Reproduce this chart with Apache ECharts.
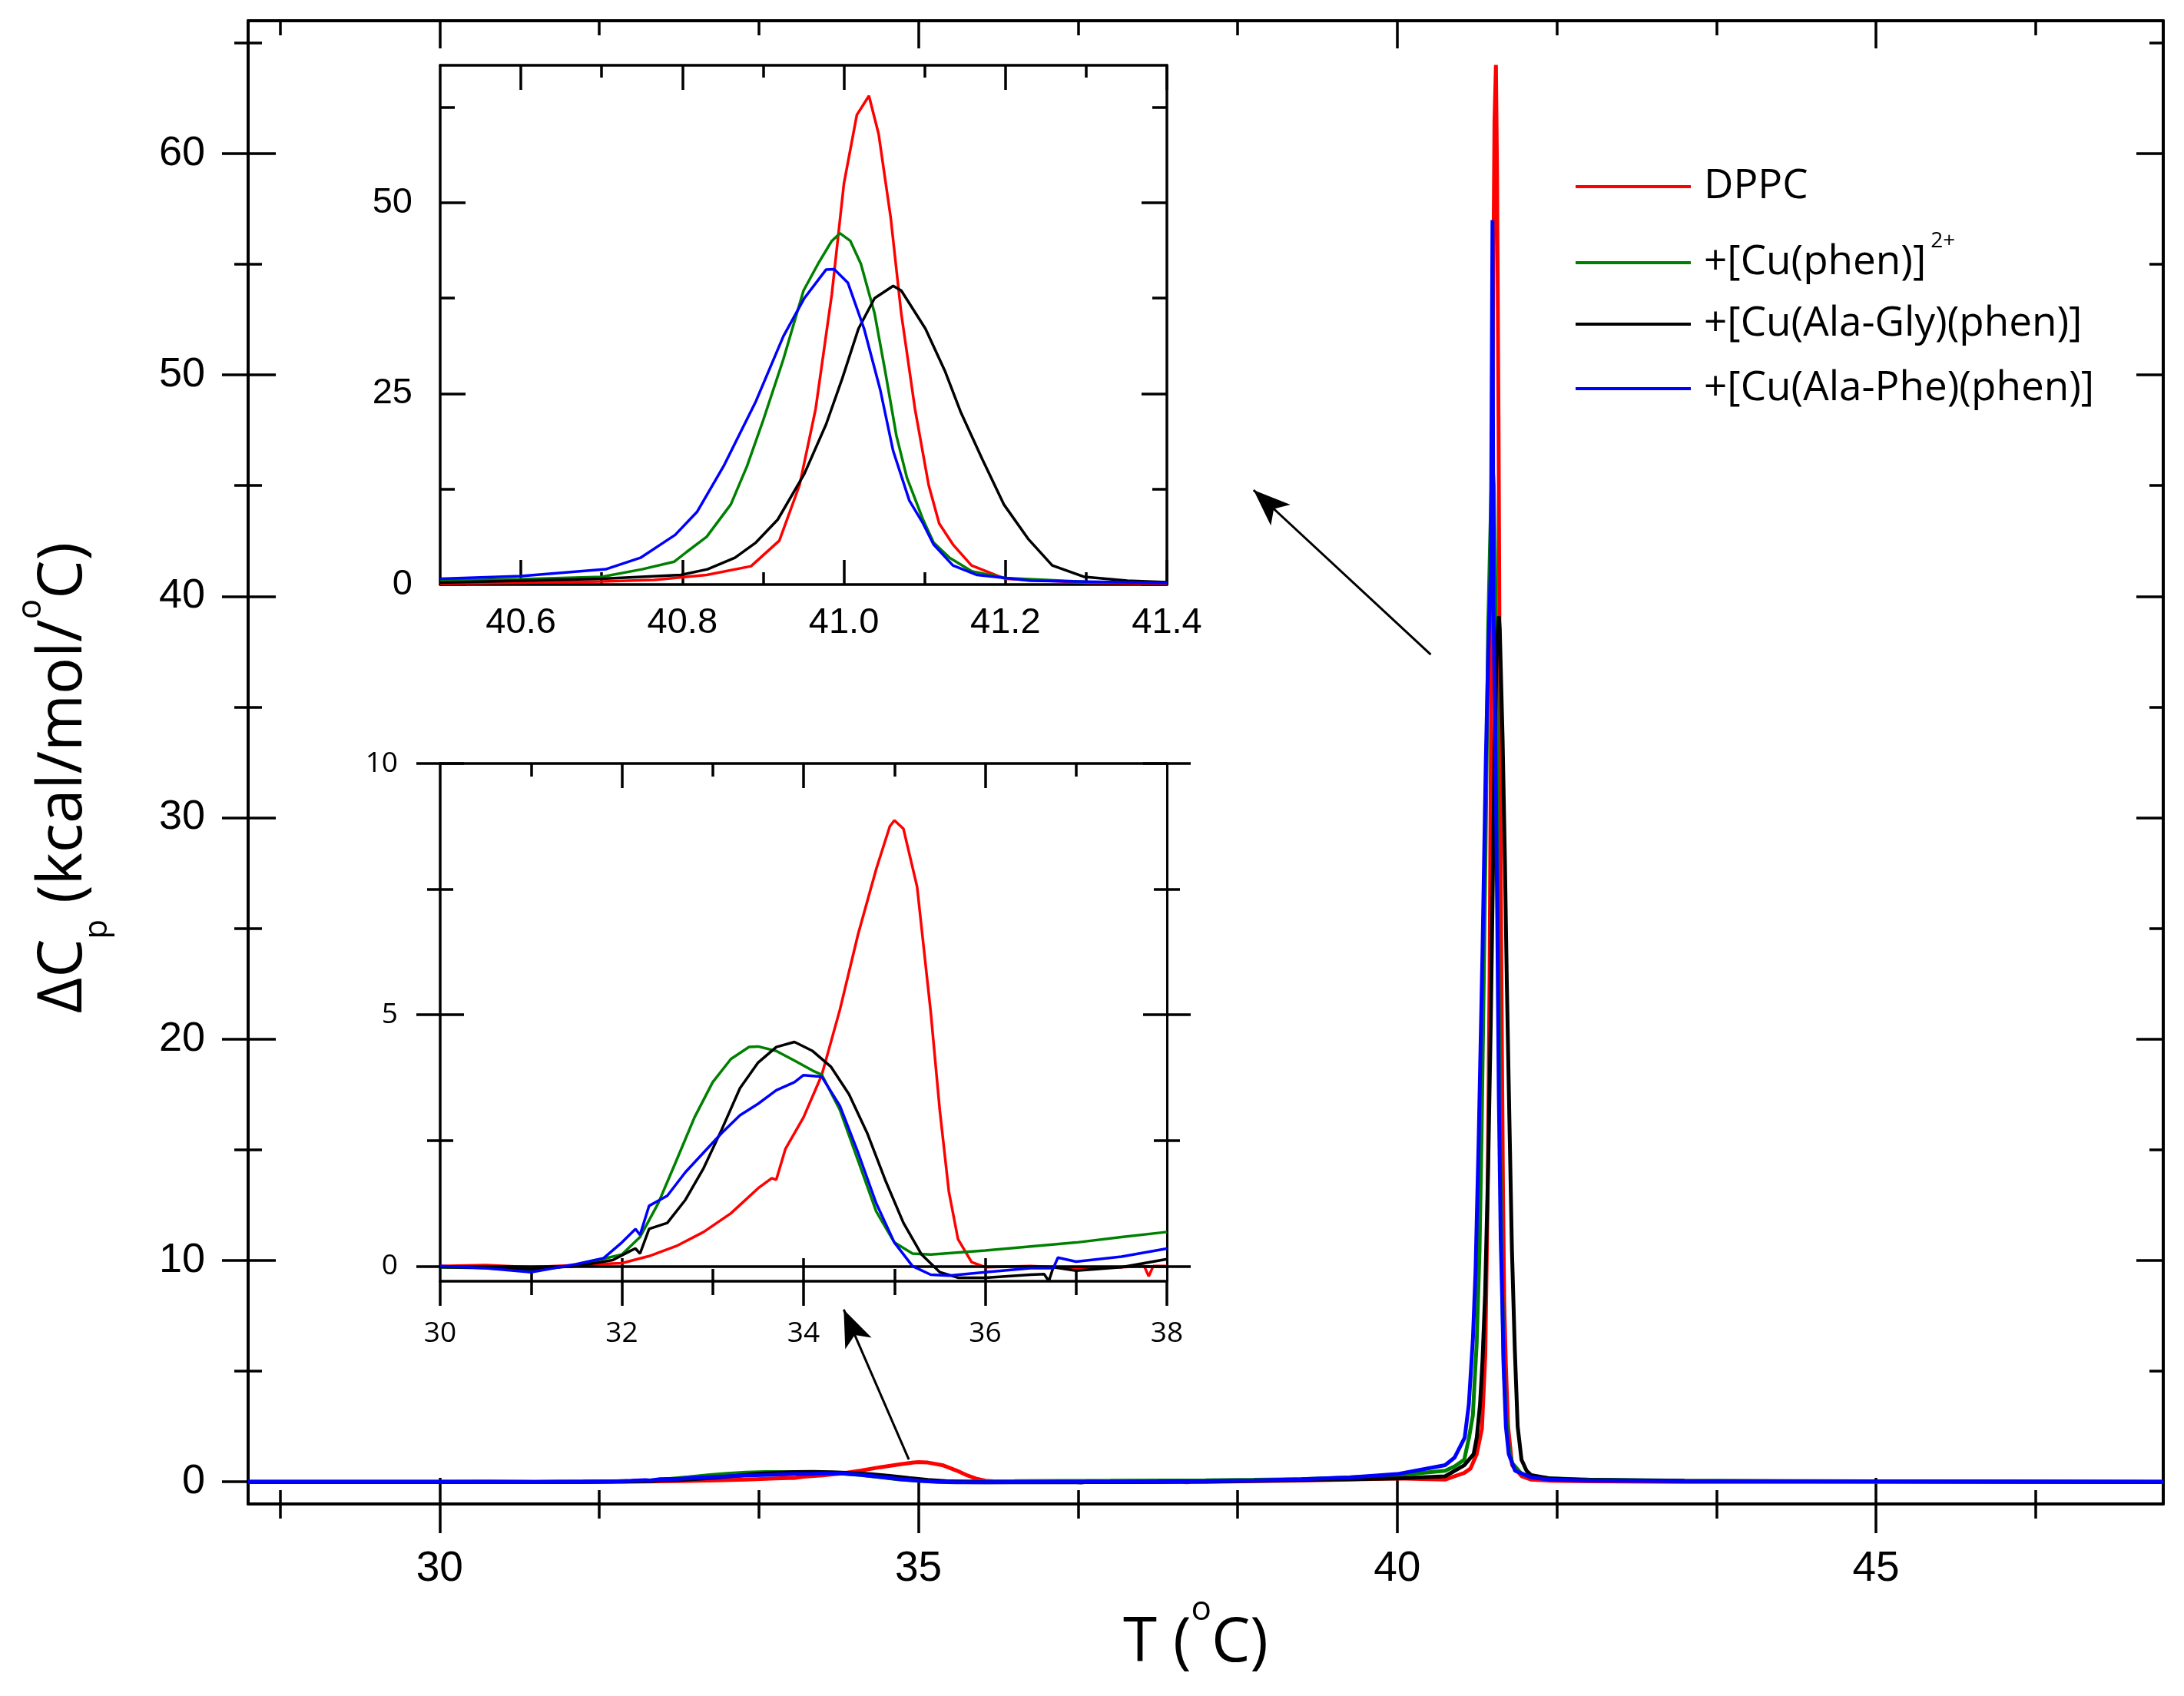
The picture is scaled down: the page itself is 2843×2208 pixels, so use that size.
<!DOCTYPE html>
<html>
<head>
<meta charset="utf-8">
<script src="https://cdn.jsdelivr.net/npm/echarts@6/dist/echarts.min.js"></script>
<style>
html,body{margin:0;padding:0;background:#fff;}
#chart{width:2843px;height:2208px;}
</style>
</head>
<body>
<div id="chart"></div>
<script>
// ---------------- DATA ----------------
const seriesNames = ['DPPC', '+[Cu(phen)]2+', '+[Cu(Ala-Gly)(phen)]', '+[Cu(Ala-Phe)(phen)]'];
const seriesColors = ['#ff0000', '#008000', '#000000', '#0000ff'];

// Main-phase transition (upper inset, kcal/mol/°C)
const transRed = [[40.50,0.1],[40.60,0.25],[40.70,0.4],[40.765,0.6],[40.83,1.25],[40.885,2.4],[40.92,5.75],[40.945,13],[40.965,23],[40.985,38],[41.0,52.5],[41.016,61.5],[41.031,64],[41.043,59],[41.058,48],[41.071,35.5],[41.088,23],[41.105,13],[41.118,8],[41.135,5.25],[41.158,2.5],[41.2,0.75],[41.3,0.25],[41.4,0.1]];
const transGreen = [[40.5,0.5],[40.6,0.7],[40.7,1.0],[40.75,2.0],[40.79,3.0],[40.805,4.25],[40.83,6.25],[40.86,10.5],[40.88,15.5],[40.9,21.5],[40.925,29.5],[40.95,38.5],[40.968,42],[40.985,45],[40.995,46],[41.008,45],[41.021,42],[41.038,35.5],[41.051,28],[41.065,19.5],[41.078,14],[41.098,8.5],[41.111,5.5],[41.131,3.5],[41.158,1.75],[41.2,0.85],[41.3,0.35],[41.4,0.25]];
const transBlack = [[40.5,0.25],[40.7,0.75],[40.798,1.25],[40.831,2.0],[40.865,3.5],[40.891,5.5],[40.918,8.5],[40.951,14.5],[40.978,21],[40.998,27],[41.018,33.5],[41.038,37.5],[41.061,39.1],[41.071,38.5],[41.101,33.5],[41.125,28],[41.145,22.5],[41.171,16.5],[41.198,10.5],[41.228,6],[41.258,2.5],[41.298,1],[41.351,0.5],[41.4,0.3]];
const transBlue = [[40.5,0.75],[40.6,1.1],[40.705,2.0],[40.748,3.5],[40.791,6.5],[40.818,9.5],[40.851,15.5],[40.891,24],[40.925,32.5],[40.951,37.5],[40.978,41.25],[40.988,41.3],[41.005,39.5],[41.025,33.5],[41.045,25.5],[41.061,17.5],[41.081,11],[41.098,8],[41.111,5.25],[41.135,2.5],[41.165,1.25],[41.231,0.5],[41.4,0.2]];
// spike of the blue trace visible only in the main panel
const blueMainSpike = [[40.995,57]];

// Pre-transition (lower inset, values as read on the inset's own axis)
const preRed = [[30,0],[30.5,0.02],[31,-0.02],[31.5,0.02],[32,0.06],[32.3,0.2],[32.6,0.4],[32.9,0.68],[33.2,1.05],[33.5,1.55],[33.65,1.75],[33.7,1.72],[33.8,2.33],[34,2.96],[34.2,3.8],[34.4,5.1],[34.6,6.6],[34.8,7.9],[34.95,8.75],[35.0,8.87],[35.1,8.7],[35.25,7.55],[35.4,5.06],[35.5,3.1],[35.6,1.48],[35.7,0.54],[35.85,0.08],[36,-0.02],[36.5,0.0],[37,-0.04],[37.5,-0.02],[37.75,0],[37.8,-0.2],[37.85,0.0],[38,0.0]];
const preGreen = [[30,-0.02],[30.5,-0.04],[31,-0.09],[31.5,0.02],[32,0.23],[32.2,0.58],[32.4,1.25],[32.6,2.1],[32.8,2.96],[33.0,3.66],[33.2,4.12],[33.4,4.36],[33.5,4.37],[33.7,4.28],[33.9,4.09],[34.1,3.89],[34.2,3.81],[34.4,3.11],[34.6,2.1],[34.8,1.09],[35.0,0.47],[35.2,0.25],[35.4,0.23],[36,0.31],[36.5,0.39],[37,0.47],[37.5,0.58],[38,0.68]];
const preBlack = [[30,-0.02],[30.5,-0.03],[31,-0.06],[31.5,0],[31.9,0.12],[32.1,0.31],[32.15,0.35],[32.2,0.25],[32.3,0.74],[32.5,0.86],[32.7,1.32],[32.9,1.95],[33.1,2.72],[33.3,3.54],[33.5,4.05],[33.7,4.36],[33.9,4.46],[34.1,4.28],[34.3,3.97],[34.5,3.42],[34.7,2.65],[34.9,1.71],[35.1,0.86],[35.3,0.23],[35.5,-0.12],[35.7,-0.23],[36,-0.23],[36.5,-0.17],[36.65,-0.16],[36.7,-0.3],[36.75,-0.02],[37,-0.09],[37.5,-0.02],[38,0.14]];
const preBlue = [[30,0],[30.5,-0.04],[31,-0.12],[31.5,0.04],[31.8,0.16],[32.0,0.47],[32.15,0.74],[32.2,0.62],[32.3,1.2],[32.5,1.4],[32.7,1.87],[32.9,2.26],[33.1,2.65],[33.3,3.0],[33.5,3.23],[33.7,3.5],[33.9,3.66],[34.0,3.8],[34.2,3.77],[34.4,3.19],[34.6,2.26],[34.8,1.25],[35.0,0.47],[35.2,0.0],[35.4,-0.17],[35.6,-0.19],[36,-0.12],[36.5,-0.04],[36.75,-0.04],[36.8,0.17],[37,0.09],[37.5,0.19],[38,0.35]];
// the lower inset is magnified 10x relative to the main axis
const PRE_TO_MAIN = 0.1;

// Baseline segments of the main panel (kcal/mol/°C)
const leadBase = [[28,0],[29,0],[29.5,0]];
const midRed = [[38.5,0.03],[39,0.06],[39.5,0.1],[40,0.15]];
const midGreen = [[38.5,0.09],[39,0.12],[39.5,0.2],[40,0.3]];
const midBlack = [[38.5,0.04],[39,0.08],[39.5,0.12],[40,0.15]];
const midBlue = [[38.5,0.06],[39,0.12],[39.5,0.2],[40,0.35]];
const tailRed = [[41.6,0.05],[42,0.02],[43,0],[48,0]];
const tailGreen = [[41.6,0.15],[42,0.1],[43,0.05],[44,0.02],[48,0]];
const tailBlack = [[41.6,0.15],[42,0.08],[43,0.04],[48,0]];
const tailBlue = [[41.6,0.1],[42,0.06],[43,0.03],[48,0]];

// Tick positions / labels
const mainXMajor = [30,35,40,45];
const mainXMinor = [28.333,31.667,33.333,36.667,38.333,41.667,43.333,46.667];
const mainYMajor = [0,10,20,30,40,50,60];
const mainYMinor = [5,15,25,35,45,55,65];
const in1XMajor = [40.6,40.8,41.0,41.2,41.4];
const in1XMinor = [40.7,40.9,41.1,41.3];
const in1YMajor = [0,25,50];
const in1YMinor = [12.5,37.5,62.5];
const in2XMajor = [30,32,34,36,38];
const in2XMajorInner = [32,34,36];
const in2XMinor = [31,33,35,37];
const in2YMajor = [0,5,10];
const in2YMinor = [2.5,7.5];

// Arrows (data coordinates of the main panel): [tail, head]
const arrows = [[[40.35,37.37],[38.5,44.8]], [[34.9,1.01],[34.22,7.78]]];

// ---------------- BUILD ----------------
const NARROW = "'Liberation Sans Narrow','Arial Narrow','Liberation Sans',sans-serif";
const SANS = "'Open Sans','Noto Sans',sans-serif";
const scalePts = (pts, k) => pts.map(p => [p[0], p[1] * k]);
const byX = (a, b) => a[0] - b[0];

const mainData = [
  [].concat(leadBase, scalePts(preRed, PRE_TO_MAIN), midRed, transRed, tailRed),
  [].concat(leadBase, scalePts(preGreen, PRE_TO_MAIN), midGreen, transGreen, tailGreen),
  [].concat(leadBase, scalePts(preBlack, PRE_TO_MAIN), midBlack, transBlack, tailBlack),
  [].concat(leadBase, scalePts(preBlue, PRE_TO_MAIN), midBlue, transBlue.concat(blueMainSpike).sort(byX), tailBlue)
];
const in1Data = [transRed, transGreen, transBlack, transBlue];
const in2Data = [preRed, preGreen, preBlack, preBlue];

function axis(kind, grid, min, max, position, o) {
  o = o || {};
  const a = {
    type: 'value', gridIndex: grid, min: min, max: max, position: position,
    axisLine: { show: !!o.line, onZero: false, lineStyle: { color: '#000', width: o.lw || 4 } },
    axisTick: o.ticks ? { show: true, customValues: o.ticks, inside: !!o.inside, length: o.len,
      lineStyle: { color: '#000', width: o.tw || 3.5 } } : { show: false },
    axisLabel: { show: false },
    splitLine: { show: false },
    minorTick: { show: false }
  };
  if (o.labels) {
    a.axisLabel = { show: true, customValues: o.labels, margin: o.margin, color: '#000',
      fontFamily: o.font, fontSize: o.fs, hideOverlap: false,
      formatter: o.fmt || (v => String(v)) };
  }
  if (o.name) {
    a.name = o.name; a.nameLocation = 'middle'; a.nameGap = o.nameGap;
    if (o.nameRotate !== undefined) a.nameRotate = o.nameRotate;
    a.nameTextStyle = o.nameStyle;
  }
  return a;
}

const titleRich = {
  a: { fontFamily: SANS, fontSize: 80, lineHeight: 130, color: '#000' },
  sup: { fontFamily: SANS, fontSize: 44, lineHeight: 44, verticalAlign: 'top', color: '#000' },
  sub: { fontFamily: SANS, fontSize: 42, lineHeight: 42, verticalAlign: 'bottom', color: '#000' }
};

const xAxes = [
  // main grid (0)
  axis('x', 0, 28, 48, 'bottom', { line: true, ticks: mainXMajor, len: 38, labels: mainXMajor, margin: 57, font: NARROW, fs: 55,
    name: '{a|T (}{sup|o}{a|C)}', nameGap: 116, nameStyle: { rich: titleRich, padding: [0, 26, 0, 0] } }),
  axis('x', 0, 28, 48, 'bottom', { ticks: mainXMajor, inside: true, len: 34 }),
  axis('x', 0, 28, 48, 'bottom', { ticks: mainXMinor, len: 19 }),
  axis('x', 0, 28, 48, 'bottom', { ticks: mainXMinor, inside: true, len: 18 }),
  axis('x', 0, 28, 48, 'top', { line: true, ticks: mainXMajor, inside: true, len: 36 }),
  axis('x', 0, 28, 48, 'top', { ticks: mainXMinor, inside: true, len: 19 }),
  // inset 1 (grid 1)
  axis('x', 1, 40.5, 41.4, 'bottom', { line: true, lw: 3.5, ticks: in1XMajor, inside: true, len: 32, labels: in1XMajor, margin: 27, font: NARROW, fs: 47, fmt: v => v.toFixed(1) }),
  axis('x', 1, 40.5, 41.4, 'bottom', { ticks: in1XMinor, inside: true, len: 16 }),
  axis('x', 1, 40.5, 41.4, 'top', { line: true, lw: 3.5, ticks: in1XMajor, inside: true, len: 32 }),
  axis('x', 1, 40.5, 41.4, 'top', { ticks: in1XMinor, inside: true, len: 16 }),
  // inset 2 (grid 2)
  axis('x', 2, 30, 38, 'bottom', { line: true, lw: 3.5, ticks: in2XMajor, len: 32, labels: in2XMajor, margin: 50, font: SANS, fs: 37 }),
  axis('x', 2, 30, 38, 'bottom', { ticks: in2XMajorInner, inside: true, len: 30 }),
  axis('x', 2, 30, 38, 'bottom', { ticks: in2XMinor, len: 18 }),
  axis('x', 2, 30, 38, 'bottom', { ticks: in2XMinor, inside: true, len: 16 }),
  axis('x', 2, 30, 38, 'top', { line: true, lw: 3.5, ticks: in2XMajorInner, inside: true, len: 32 }),
  axis('x', 2, 30, 38, 'top', { ticks: in2XMinor, inside: true, len: 17 })
];

const yAxes = [
  // main grid (0)
  axis('y', 0, -1, 66, 'left', { line: true, ticks: mainYMajor, len: 34, labels: mainYMajor, margin: 56, font: NARROW, fs: 54,
    name: '{a|ΔC}{sub|p}{a| (kcal/mol/}{sup|o}{a|C)}', nameGap: 175, nameRotate: 90,
    nameStyle: { rich: titleRich, padding: [0, 40, 0, 0] } }),
  axis('y', 0, -1, 66, 'left', { ticks: mainYMajor, inside: true, len: 36 }),
  axis('y', 0, -1, 66, 'left', { ticks: mainYMinor, len: 18 }),
  axis('y', 0, -1, 66, 'left', { ticks: mainYMinor, inside: true, len: 18 }),
  axis('y', 0, -1, 66, 'right', { line: true, ticks: mainYMajor, inside: true, len: 35 }),
  axis('y', 0, -1, 66, 'right', { ticks: mainYMinor, inside: true, len: 18 }),
  // inset 1 (grid 1)
  axis('y', 1, 0, 68, 'left', { line: true, lw: 3.5, ticks: in1YMajor, inside: true, len: 33, labels: in1YMajor, margin: 36, font: NARROW, fs: 47 }),
  axis('y', 1, 0, 68, 'left', { ticks: in1YMinor, inside: true, len: 19 }),
  axis('y', 1, 0, 68, 'right', { line: true, lw: 3.5, ticks: in1YMajor, inside: true, len: 33 }),
  axis('y', 1, 0, 68, 'right', { ticks: in1YMinor, inside: true, len: 19 }),
  // inset 2 (grid 2)
  axis('y', 2, -0.3, 10, 'left', { line: true, lw: 3.5, ticks: in2YMajor, len: 31, labels: in2YMajor, margin: 55, font: SANS, fs: 37 }),
  axis('y', 2, -0.3, 10, 'left', { ticks: in2YMajor, inside: true, len: 31 }),
  axis('y', 2, -0.3, 10, 'left', { ticks: in2YMinor, len: 17 }),
  axis('y', 2, -0.3, 10, 'left', { ticks: in2YMinor, inside: true, len: 17 }),
  axis('y', 2, -0.3, 10, 'right', { line: true, lw: 3, ticks: in2YMajor, len: 31 }),
  axis('y', 2, -0.3, 10, 'right', { ticks: in2YMajor, inside: true, len: 31 }),
  axis('y', 2, -0.3, 10, 'right', { ticks: in2YMinor, len: 17 }),
  axis('y', 2, -0.3, 10, 'right', { ticks: in2YMinor, inside: true, len: 17 })
];

const series = [];
// main panel: xAxis 0 / yAxis 0 ; inset1: xAxis 6 / yAxis 6 ; inset2: xAxis 10 / yAxis 10
seriesNames.forEach((nm, i) => {
  series.push({ type: 'line', name: nm, xAxisIndex: 0, yAxisIndex: 0, data: mainData[i], showSymbol: false, symbol: 'none',
    lineStyle: { color: seriesColors[i], width: 5 }, itemStyle: { color: seriesColors[i] }, z: 3 + i });
});
seriesNames.forEach((nm, i) => {
  series.push({ type: 'line', name: nm, xAxisIndex: 6, yAxisIndex: 6, data: in1Data[i], showSymbol: false, symbol: 'none',
    lineStyle: { color: seriesColors[i], width: 3.5 }, itemStyle: { color: seriesColors[i] }, z: 3 + i });
});
seriesNames.forEach((nm, i) => {
  series.push({ type: 'line', name: nm, xAxisIndex: 10, yAxisIndex: 10, data: in2Data[i], showSymbol: false, symbol: 'none',
    lineStyle: { color: seriesColors[i], width: 3.5 }, itemStyle: { color: seriesColors[i] }, z: 3 + i });
});
// arrows
series[0].markLine = {
  silent: true, animation: false, symbol: ['none', 'arrow'], symbolSize: [28, 48],
  lineStyle: { color: '#000', width: 3, type: 'solid' }, label: { show: false },
  data: arrows.map(a => [{ coord: a[0] }, { coord: a[1] }])
};
// zero line of the lower inset
series[8].markLine = {
  silent: true, animation: false, symbol: 'none',
  lineStyle: { color: '#000', width: 3.5, type: 'solid' }, label: { show: false },
  data: [{ yAxis: 0 }]
};

const legendTops = [213, 300, 392, 476];
const legends = seriesNames.map((nm, i) => {
  const lg = {
    data: [nm], left: 2051, top: legendTops[i], orient: 'vertical', padding: 0,
    icon: 'rect', itemWidth: 150, itemHeight: 4, selectedMode: false,
    textStyle: { fontFamily: SANS, fontSize: 53, lineHeight: 60, color: '#000', padding: [0, 0, 0, 12] }
  };
  if (i === 1) {
    lg.formatter = () => '{n|+[Cu(phen)]}{sup|2+}';
    lg.textStyle.rich = {
      n: { fontFamily: SANS, fontSize: 53, lineHeight: 84, color: '#000' },
      sup: { fontFamily: SANS, fontSize: 28, lineHeight: 28, verticalAlign: 'top', color: '#000', padding: [0, 0, 0, 6] }
    };
  }
  return lg;
});

const option = {
  animation: false,
  backgroundColor: '#ffffff',
  grid: [
    { left: 323, right: 27, top: 27, bottom: 250, containLabel: false },
    { left: 573, right: 1324, top: 85, bottom: 1447, containLabel: false },
    { left: 573, right: 1324, top: 994, bottom: 540, containLabel: false }
  ],
  xAxis: xAxes,
  yAxis: yAxes,
  legend: legends,
  series: series
};

const chart = echarts.init(document.getElementById('chart'), null, { renderer: 'canvas', width: 2843, height: 2208 });
chart.setOption(option);
</script>
</body>
</html>
